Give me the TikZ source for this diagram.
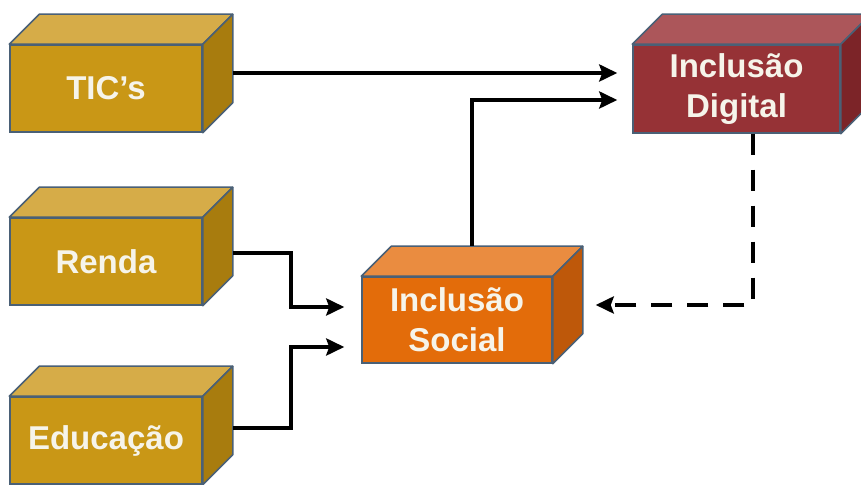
\documentclass[tikz,border=0pt]{standalone}
\usepackage{fontspec}
\setmainfont{Liberation Sans}
\usetikzlibrary{arrows.meta,calc}

\definecolor{edge}{RGB}{74,96,118}
\definecolor{cream}{RGB}{246,244,234}
\definecolor{goldF}{RGB}{201,151,22}
\definecolor{goldT}{RGB}{214,172,72}
\definecolor{goldS}{RGB}{168,124,14}
\definecolor{redF}{RGB}{150,50,54}
\definecolor{redT}{RGB}{172,86,90}
\definecolor{redS}{RGB}{124,36,40}
\definecolor{orangeF}{RGB}{227,108,10}
\definecolor{orangeT}{RGB}{234,140,64}
\definecolor{orangeS}{RGB}{190,88,10}

\begin{document}
\begin{tikzpicture}[x=1pt,y=1pt,>={Stealth[length=18pt,width=17pt,inset=3pt]}]
    \tikzstyle{block}=[rectangle,draw=edge,line width=1.5pt,minimum width=192pt,minimum height=87pt,inner sep=0pt,align=center,text=cream,font=\bfseries\fontsize{33}{40}\selectfont]
    \tikzstyle{face}=[draw=edge,line width=1.5pt,line join=round]
    \tikzstyle{link}=[line width=4.5pt,->]
    \useasboundingbox (0,0) rectangle (861,484);
    % front faces
    \node[block,fill=goldF] (tic) at (106,395.5) {TIC's};
    \node[block,fill=goldF] (renda) at (106,222.5) {Renda};
    \node[block,fill=goldF] (educ) at (106,43.5) {Educação};
    \node[block,fill=orangeF,minimum width=190pt,minimum height=86pt] (social) at (457,164) {Inclusão\\Social};
    \node[block,fill=redF,minimum width=207pt,minimum height=88pt] (digital) at (736.5,395) {Inclusão\\Digital};
    % top and side faces
    \foreach \n/\t/\s in {tic/goldT/goldS,renda/goldT/goldS,educ/goldT/goldS,social/orangeT/orangeS,digital/redT/redS} {
      \draw[face,fill=\t] (\n.north west) -- ++(30,30) -- ($(\n.north east)+(30,30)$) -- (\n.north east) -- cycle;
      \draw[face,fill=\s] (\n.north east) -- ++(30,30) -- ($(\n.south east)+(30,30)$) -- (\n.south east) -- cycle;
    }
    % connectors
    \coordinate (t0) at ([shift={(30,15.5)}]tic.east);
    \draw[link,shorten >=15pt] (t0) -- (t0 -| digital.west);
    \draw[link,shorten >=15pt] ([shift={(15,30)}]social.north) |- ([yshift=-11pt]digital.west);
    \draw[link,shorten >=17pt] ([shift={(30,8.5)}]renda.east) -- ++(58,0) |- ([yshift=13pt]social.west);
    \draw[link,shorten >=17pt] ([shift={(30,12.5)}]educ.east) -- ++(58,0) |- ([yshift=-27pt]social.west);
    \draw[link,dash pattern=on 21pt off 15pt,shorten >=13pt] ([xshift=16.5pt]digital.south) |- ([shift={(30,15)}]social.east);
\end{tikzpicture}
\end{document}
